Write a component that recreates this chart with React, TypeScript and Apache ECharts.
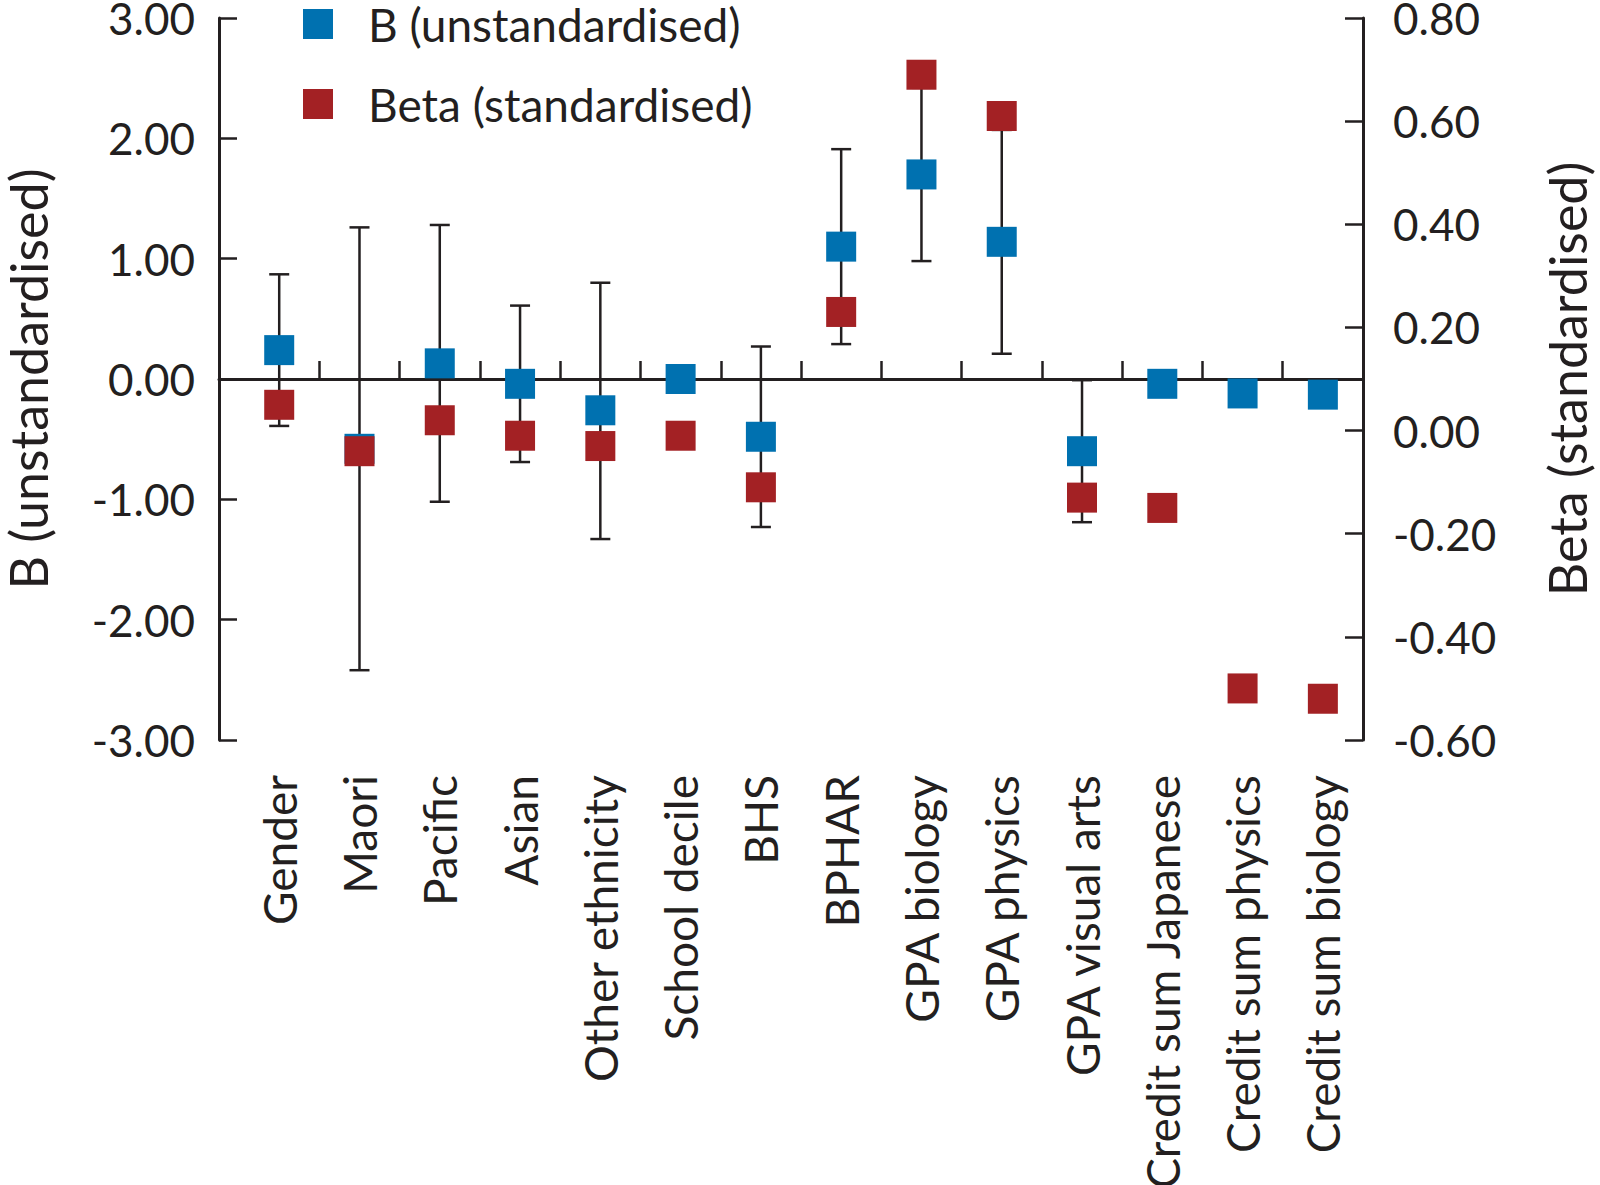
import React, { useEffect, useRef } from "react";
import * as echarts from "echarts";

const categories = [
  "Gender",
  "Maori",
  "Pacific",
  "Asian",
  "Other ethnicity",
  "School decile",
  "BHS",
  "BPHAR",
  "GPA biology",
  "GPA physics",
  "GPA visual arts",
  "Credit sum Japanese",
  "Credit sum physics",
  "Credit sum biology",
];
const bValues = [0.24, -0.58, 0.13, -0.04, -0.26, 0.0, -0.48, 1.1, 1.7, 1.14, -0.6, -0.04, -0.12, -0.13];
const bLower = [-0.39, -2.42, -1.02, -0.69, -1.33, null, -1.23, 0.29, 0.98, 0.21, -1.19, null, null, null];
const bUpper = [0.87, 1.26, 1.28, 0.61, 0.8, null, 0.27, 1.91, 2.42, 2.07, -0.01, null, null, null];
const betaValues = [0.05, -0.04, 0.02, -0.01, -0.03, -0.01, -0.11, 0.23, 0.69, 0.61, -0.13, -0.15, -0.5, -0.52];
const leftTicks = [-3, -2, -1, 0, 1, 2, 3];
const rightTicks = [-0.6, -0.4, -0.2, 0, 0.2, 0.4, 0.6, 0.8];
const seriesNames = ["B (unstandardised)", "Beta (standardised)"];
const axisNames = ["B (unstandardised)", "Beta (standardised)"];

const FONT = "Lato, 'Noto Sans', sans-serif";
const INK = "#231f20";
const BLUE = "#0071b0";
const RED = "#a32124";

export default function App() {
  const ref = useRef<HTMLDivElement>(null);
  useEffect(() => {
    document.body.style.margin = "0";
    if (!ref.current) return;
    const chart = echarts.init(ref.current, undefined, { renderer: "svg" });
    const catIdx = categories.map((_, i) => i);
    const between = categories.slice(0, -1).map((_, i) => i + 0.5);
    const errData = catIdx
      .filter((i) => bLower[i] !== null && bUpper[i] !== null)
      .map((i) => [i, bLower[i], bUpper[i]]);

    chart.setOption({
      animation: false,
      textStyle: { fontFamily: FONT, color: INK },
      legend: {
        data: seriesNames,
        orient: "vertical",
        left: 303,
        top: 1,
        padding: 0,
        itemWidth: 30,
        itemHeight: 30,
        itemGap: 34,
        icon: "rect",
        textStyle: { fontFamily: FONT, fontSize: 46, lineHeight: 46, color: INK, padding: [0, 0, 0, 30] },
      },
      grid: { left: 219, right: 237, top: 18, bottom: 445, containLabel: false, outerBoundsMode: "none" },
      xAxis: [
        {
          type: "value",
          min: -0.75,
          max: 13.5,
          position: "bottom",
          axisLine: { show: true, onZero: true, onZeroAxisIndex: 0, lineStyle: { color: INK, width: 3 } },
          axisTick: { show: true, inside: true, length: 18, customValues: between, lineStyle: { color: INK, width: 2.5 } },
          axisLabel: { show: false },
          splitLine: { show: false },
        },
        {
          type: "value",
          min: -0.75,
          max: 13.5,
          position: "bottom",
          axisLine: { show: false, onZero: false },
          axisTick: { show: false },
          axisLabel: {
            show: true,
            customValues: catIdx,
            formatter: (v: number) => categories[Math.round(v)] ?? "",
            rotate: 90,
            margin: 35,
            fontSize: 46,
            fontFamily: FONT,
            color: INK,
          },
          splitLine: { show: false },
        },
      ],
      yAxis: [
        {
          type: "value",
          min: leftTicks[0],
          max: leftTicks[leftTicks.length - 1],
          interval: 1,
          position: "left",
          axisLine: { show: true, onZero: false, lineStyle: { color: INK, width: 3 } },
          axisTick: { show: true, inside: true, length: 18, lineStyle: { color: INK, width: 2.5 } },
          axisLabel: { formatter: (v: number) => v.toFixed(2), fontSize: 44, lineHeight: 36, margin: 24, color: INK, fontFamily: FONT },
          splitLine: { show: false },
          name: axisNames[0],
          nameLocation: "middle",
          nameRotate: 90,
          nameGap: 165,
          nameTextStyle: { fontSize: 52, fontFamily: FONT, color: INK },
        },
        {
          type: "value",
          min: rightTicks[0],
          max: rightTicks[rightTicks.length - 1],
          interval: 0.2,
          position: "right",
          axisLine: { show: true, onZero: false, lineStyle: { color: INK, width: 3 } },
          axisTick: { show: true, inside: true, length: 18, lineStyle: { color: INK, width: 2.5 } },
          axisLabel: { formatter: (v: number) => v.toFixed(2), fontSize: 44, lineHeight: 36, margin: 30, color: INK, fontFamily: FONT },
          splitLine: { show: false },
          name: axisNames[1],
          nameLocation: "middle",
          nameRotate: 90,
          nameGap: 178,
          nameTextStyle: { fontSize: 52, fontFamily: FONT, color: INK },
        },
      ],
      series: [
        {
          type: "custom",
          name: "errors",
          xAxisIndex: 0,
          yAxisIndex: 0,
          z: 2,
          data: errData,
          renderItem: (params: any, api: any) => {
            const x = api.value(0);
            const lo = api.coord([x, api.value(1)]);
            const hi = api.coord([x, api.value(2)]);
            const hw = 10;
            const st = { stroke: INK, lineWidth: 2.5 };
            return {
              type: "group",
              children: [
                { type: "line", shape: { x1: lo[0], y1: lo[1], x2: hi[0], y2: hi[1] }, style: st },
                { type: "line", shape: { x1: lo[0] - hw, y1: lo[1], x2: lo[0] + hw, y2: lo[1] }, style: st },
                { type: "line", shape: { x1: hi[0] - hw, y1: hi[1], x2: hi[0] + hw, y2: hi[1] }, style: st },
              ],
            };
          },
        },
        {
          type: "scatter",
          name: seriesNames[0],
          xAxisIndex: 0,
          yAxisIndex: 0,
          z: 3,
          symbol: "rect",
          symbolSize: 30,
          itemStyle: { color: BLUE, opacity: 1 },
          data: bValues.map((v, i) => [i, v]),
        },
        {
          type: "scatter",
          name: seriesNames[1],
          xAxisIndex: 0,
          yAxisIndex: 1,
          z: 4,
          symbol: "rect",
          symbolSize: 30,
          itemStyle: { color: RED, opacity: 1 },
          data: betaValues.map((v, i) => [i, v]),
        },
      ],
    });
    return () => chart.dispose();
  }, []);
  return <div ref={ref} style={{ width: 1600, height: 1185 }} />;
}
